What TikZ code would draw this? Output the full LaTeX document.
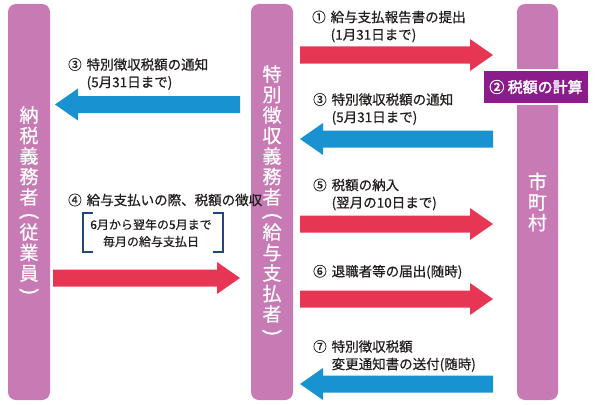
\documentclass[tikz,border=0pt]{standalone}
\usepackage{fontspec}
\setmainfont{Noto Sans CJK JP}[FakeBold=0.6]
\newfontfamily\boldjp{Noto Sans CJK JP}[FakeBold=2.2]
\usepackage{graphicx}
\definecolor{barpink}{RGB}{200,122,180}
\definecolor{boxpurple}{RGB}{140,28,140}
\definecolor{redA}{RGB}{231,54,84}
\definecolor{blueA}{RGB}{24,146,208}
\definecolor{navy}{RGB}{35,70,120}
\definecolor{txt}{RGB}{35,30,30}
\newcommand\vp[1]{\rotatebox[origin=c]{-90}{\scalebox{1.25}[1]{#1}}}
\newcommand\cn[1]{#1\hspace{5pt}}
\newcommand\ind{\hphantom{①\hspace{5pt}}}
\newcommand\fatarrow[4]{%
  \pgfmathsetmacro\hb{#3-23*sign(#3-#2)}%
  \fill[#1] (#2,#4-8.5) -- (\hb,#4-8.5) -- (\hb,#4-16) -- (#3,#4) -- (\hb,#4+16) -- (\hb,#4+8.5) -- (#2,#4+8.5) -- cycle;}
\begin{document}
\begin{tikzpicture}[x=1pt,y=-1pt,
  bar/.style={fill=barpink, rounded corners=8pt, minimum width=42pt, minimum height=396pt,
    inner sep=0pt, text=white, align=center, font=\fontsize{19}{20.5}\selectfont},
  lbl/.style={anchor=west, inner sep=0pt, align=left, text=txt, font=\fontsize{13.5}{17.5}\selectfont},
  brk/.style={draw=navy, line width=1.4pt},
  calcbox/.style={fill=boxpurple, draw=white, line width=2pt, minimum width=106pt, minimum height=34pt,
    inner sep=0pt, text=white, font=\fontsize{15}{15}\boldjp}]
\useasboundingbox (0,0) rectangle (596,404);

% bars
\node[bar] (payer) at (29,202) {納\\税\\義\\務\\者\\[-3pt]\vp{(}\\[-3pt]従\\業\\員\\[-3pt]\vp{)}};
\node[bar] (employer) at (272,202) {特\\別\\徴\\収\\義\\務\\者\\[-3pt]\vp{(}\\[-3pt]給\\与\\支\\払\\者\\[-3pt]\vp{)}};
\node[bar, minimum width=41pt] (city) at (537.5,202) {市\\町\\村};
\node[calcbox] (calc) at (536,87) {② 税額の計算};

% arrows
\fatarrow{redA}{300}{493}{55}
\fatarrow{blueA}{493}{300}{139}
\fatarrow{blueA}{240}{55}{104.5}
\fatarrow{redA}{300}{493}{224}
\fatarrow{redA}{53}{240}{278}
\fatarrow{redA}{300}{493}{299}
\fatarrow{blueA}{493}{300}{384}

% labels
\node[lbl] (l1) at (312,26.5) {\cn{①}給与支払報告書の提出\\\ind(1月31日まで)};
\node[lbl] (l3a) at (68,74) {\cn{③}特別徴収税額の通知\\\ind(5月31日まで)};
\node[lbl] (l3b) at (313,109) {\cn{③}特別徴収税額の通知\\\ind(5月31日まで)};
\node[lbl] (l4) at (68,200) {\cn{④}給与支払いの際、税額の徴収};
\node[lbl] (l5) at (313,194.5) {\cn{⑤}税額の納入\\\ind(翌月の10日まで)};
\node[lbl] (l6) at (313,272) {\cn{⑥}退職者等の届出(随時)};
\node[lbl] (l7) at (313,356) {\cn{⑦}特別徴収税額\\\ind 変更通知書の送付(随時)};

% bracket note
\draw[brk] (93,213) -| (83,252) -- (93,252);
\draw[brk] (213,213) -| (223,252) -- (213,252);
\node[align=center, inner sep=0pt, text=txt, font=\fontsize{12}{17}\selectfont] (note) at (151,233) {6月から翌年の5月まで\\毎月の給与支払日};
\end{tikzpicture}
\end{document}
